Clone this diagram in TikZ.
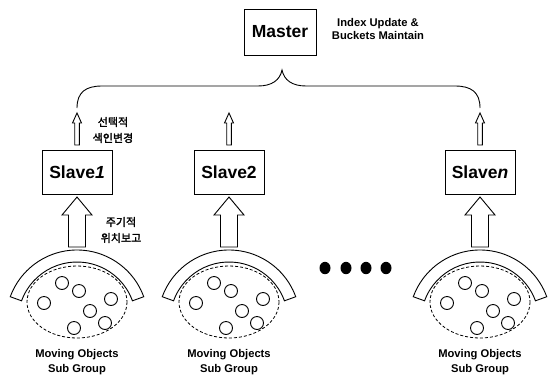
\documentclass[tikz,border=0pt]{standalone}
\usepackage{fontspec}
\setmainfont{Liberation Sans}
\newfontfamily\krfont{Noto Sans CJK KR}[FakeBold=2]
\usetikzlibrary{calc}
\begin{document}
\begin{tikzpicture}[x=1pt,y=-1pt,
  boxnode/.style={draw, line width=1pt, inner sep=0pt, minimum width=70pt, minimum height=44pt,
    font=\bfseries\fontsize{17.5}{17.5}\selectfont},
  note/.style={align=center, inner sep=0pt, font=\bfseries\fontsize{11.2}{13.5}\selectfont},
  krnote/.style={align=center, inner sep=0pt, font=\krfont\fontsize{11}{16}\selectfont},
  grouplabel/.style={align=center, inner sep=0pt, font=\bfseries\fontsize{11.2}{15}\selectfont},
  hollow/.style={draw, line width=0.9pt, fill=white, line join=miter},
  bow/.style={draw, line width=0.9pt, fill=white},
  region/.style={draw, line width=0.8pt, dash pattern=on 3pt off 2pt},
  obj/.style={draw, line width=0.9pt},
  brace/.style={draw, line width=0.9pt},
  ellipsisdot/.style={fill=black}]
\useasboundingbox (0,0) rectangle (553,378);

% master server
\node[boxnode, minimum width=72pt, minimum height=46pt] (master) at (280,32) {Master};
\node[note] (mnote) at (378,29) {Index Update \&\\Buckets Maintain};

% slave servers
\node[boxnode] (s1) at (77,172) {Slave\textit{1}};
\node[boxnode] (s2) at (229,172) {Slave2};
\node[boxnode] (sn) at (480,172) {Slave\textit{n}};

% brace joining the slaves to the master
\coordinate (b1) at (77,108);
\coordinate (bn) at (480,108);
\coordinate (peak) at (282,70);
\path[brace] (b1) .. controls (77,92) and (86,86) .. (102,86) -- (258,86)
  .. controls (272,86) and (280,80) .. (peak)
  .. controls (284,80) and (292,86) .. (306,86) -- (455,86)
  .. controls (471,86) and (480,92) .. (bn);

% small hollow arrows: selective index change
\foreach \s in {s1,s2,sn}{
  \path let \p1=(\s.north) in
    [hollow] (\x1,113) -- (\x1+4.5,123) -- (\x1+2.3,123) -- (\x1+2.3,145)
      -- (\x1-2.3,145) -- (\x1-2.3,123) -- (\x1-4.5,123) -- cycle;
}
\node[krnote] (sel) at (113,130) {선택적\\색인변경};

% moving object groups with periodic location reports
\foreach \cx/\id in {77/1,229/2,480/n}{
  \begin{scope}[shift={(\cx,321)}]
    \path[bow] (-20:71) arc[start angle=-20,end angle=-160,radius=71]
      -- (-160:59) arc[start angle=-160,end angle=-20,radius=59] -- cycle;
    \path[region] (0,-19) ellipse[x radius=50, y radius=36];
    \foreach \dx/\dy in {-15/-38, 2/-30, -33/-18, 34/-22, 13/-10, 28/2, -3/7}
      \path[obj] (\dx,\dy) circle[radius=6.5];
    \path[hollow] (0,-124) -- (15,-106) -- (8.5,-106) -- (8.5,-74)
      -- (-8.5,-74) -- (-8.5,-106) -- (-15,-106) -- cycle;
    \node[grouplabel] (g\id) at (0,41) {Moving Objects\\Sub Group};
  \end{scope}
}
\node[krnote] (rep) at (121,230) {주기적\\위치보고};

% ellipsis between the groups
\foreach \x [count=\i] in {325,346,366,386}
  \path[ellipsisdot] (\x,268) ellipse[x radius=5.5, y radius=6.2];
\end{tikzpicture}
\end{document}
